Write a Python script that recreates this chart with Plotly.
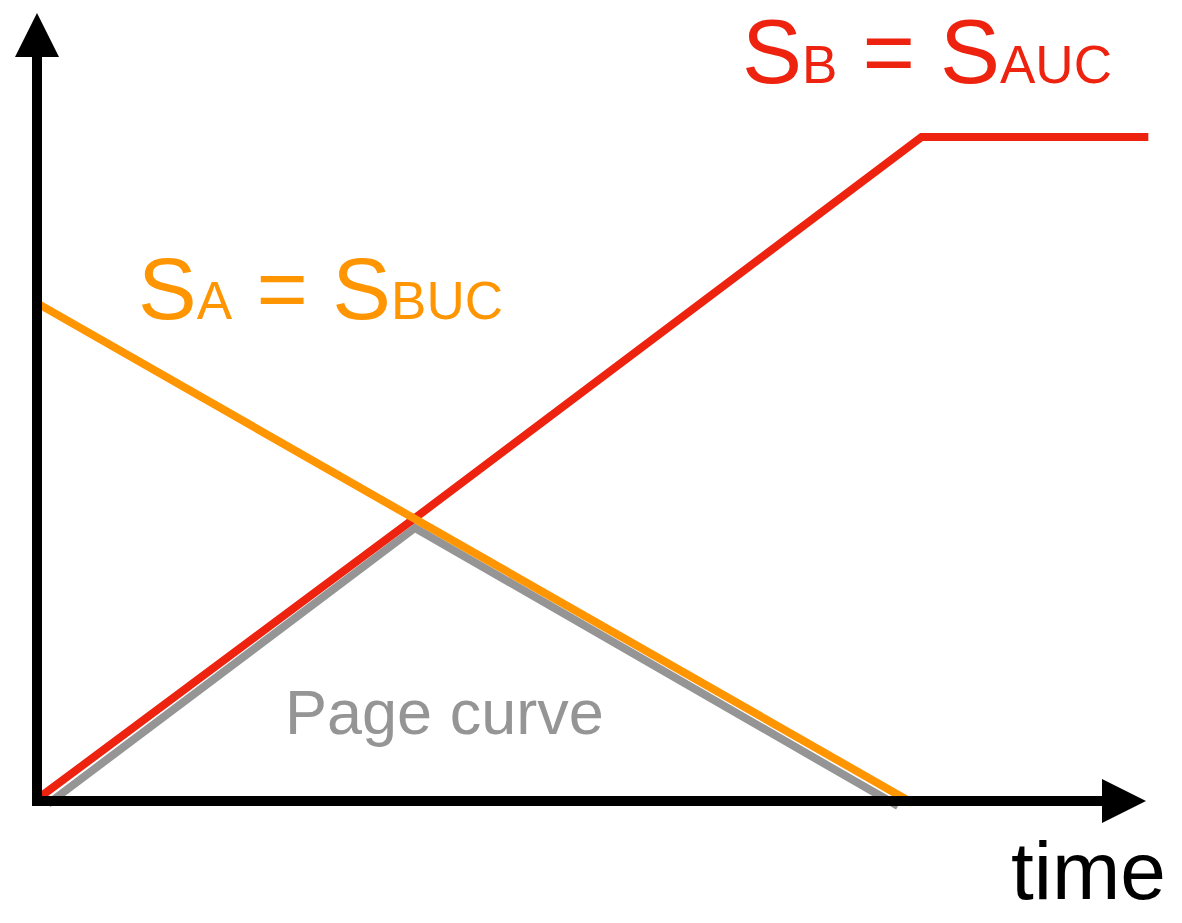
import plotly.graph_objects as go

# ---- data (time in units of the Page time, entropy in units of S at the Page time)
time_SB = [0.008, 1.0, 2.34, 2.94]
S_B = [0.014, 1.0, 2.346, 2.346]

time_SA = [0.008, 1.0, 2.316]
S_A = [1.753, 1.0, -0.007]

time_page = [0.029, 1.0, 2.278]
page_curve = [-0.01, 0.965, -0.018]

W, H = 1182, 923
X0PX, Y0PX, XS, YS = 37, 801, 378, 283  # layout mapping


def dx(px):
    return (px - X0PX) / XS


def dy(py):
    return (Y0PX - py) / YS


RED = "#EE230F"
ORANGE = "#FF9500"
GRAY = "#959595"
LW = 8

fig = go.Figure()
fig.add_trace(go.Scatter(x=time_page, y=page_curve, mode="lines",
                         line=dict(color=GRAY, width=LW), hoverinfo="skip"))
fig.add_trace(go.Scatter(x=time_SB, y=S_B, mode="lines",
                         line=dict(color=RED, width=LW), hoverinfo="skip"))
fig.add_trace(go.Scatter(x=time_SA, y=S_A, mode="lines",
                         line=dict(color=ORANGE, width=LW), hoverinfo="skip"))

shapes = []
# y axis line
shapes.append(dict(type="line", xref="x", yref="y", x0=dx(37), x1=dx(37), y0=dy(806), y1=dy(50),
                   line=dict(color="black", width=10)))
# x axis line
shapes.append(dict(type="line", xref="x", yref="y", x0=dx(32), x1=dx(1110), y0=dy(801), y1=dy(801),
                   line=dict(color="black", width=10)))


def path(pts):
    return "M " + " L ".join(f"{dx(a)},{dy(b)}" for a, b in pts) + " Z"


shapes.append(dict(type="path", xref="x", yref="y", path=path([(37, 13), (59, 57), (15, 57)]),
                   fillcolor="black", line=dict(color="black", width=0)))
shapes.append(dict(type="path", xref="x", yref="y", path=path([(1146, 801), (1102, 779), (1102, 823)]),
                   fillcolor="black", line=dict(color="black", width=0)))

FONT = "Liberation Sans, Arial, Helvetica, sans-serif"
annotations = [
    dict(text="S<span style='font-size:53px'>B</span> = S<span style='font-size:53px'>AUC</span>",
         x=dx(740), y=dy(52), xref="x", yref="y", xanchor="left", yanchor="middle",
         showarrow=False, font=dict(family=FONT, size=90, color=RED)),
    dict(text="S<span style='font-size:53px'>A</span> = S<span style='font-size:53px'>BUC</span>",
         x=dx(136), y=dy(288), xref="x", yref="y", xanchor="left", yanchor="middle",
         showarrow=False, font=dict(family=FONT, size=88, color=ORANGE)),
    dict(text="Page curve", x=dx(283), y=dy(712), xref="x", yref="y", xanchor="left", yanchor="middle",
         showarrow=False, font=dict(family=FONT, size=63, color=GRAY)),
    dict(text="time", x=dx(1009), y=dy(870), xref="x", yref="y", xanchor="left", yanchor="middle",
         showarrow=False, font=dict(family=FONT, size=82, color="black")),
]

fig.update_layout(
    width=W, height=H, margin=dict(l=0, r=0, t=0, b=0),
    paper_bgcolor="white", plot_bgcolor="white", showlegend=False,
    xaxis=dict(range=[dx(0), dx(W)], visible=False, fixedrange=True),
    yaxis=dict(range=[dy(H), dy(0)], visible=False, fixedrange=True),
    shapes=shapes, annotations=annotations,
)

fig.write_html("out.html", config={"displayModeBar": False},
               post_script="document.body.style.margin='0';document.body.style.overflow='hidden';")
